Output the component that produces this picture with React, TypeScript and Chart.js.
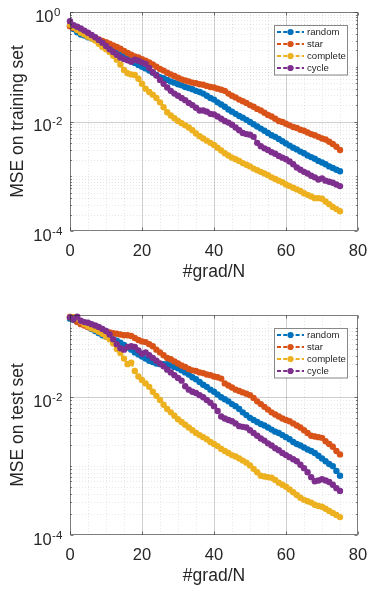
import React, { useEffect, useRef } from "react";
import { Chart, registerables } from "chart.js";

Chart.register(...registerables);

// ---------------- DATA ----------------
const gradSteps = [
  0, 1, 2, 3, 4, 5, 6, 7, 8, 9, 10, 11, 12, 13, 14, 15, 16, 17, 18, 19,
  20, 21, 22, 23, 24, 25, 26, 27, 28, 29, 30, 31, 32, 33, 34, 35, 36, 37, 38, 39,
  40, 41, 42, 43, 44, 45, 46, 47, 48, 49, 50, 51, 52, 53, 54, 55, 56, 57, 58, 59,
  60, 61, 62, 63, 64, 65, 66, 67, 68, 69, 70, 71, 72, 73, 74, 75,
];

const seriesNames = ["random", "star", "complete", "cycle"];
const seriesColors = ["#0072BD", "#D95319", "#EDB120", "#7E2F8E"];

// values given as log10(MSE)
const trainRandomLog10 = [
  -0.25, -0.31, -0.37, -0.41, -0.43, -0.46, -0.48, -0.50, -0.53, -0.55,
  -0.58, -0.61, -0.65, -0.70, -0.74, -0.79, -0.84, -0.89, -0.93, -0.97,
  -1.00, -1.03, -1.07, -1.11, -1.15, -1.19, -1.21, -1.24, -1.27, -1.29,
  -1.32, -1.34, -1.37, -1.39, -1.41, -1.44, -1.46, -1.49, -1.53, -1.57,
  -1.60, -1.65, -1.69, -1.73, -1.78, -1.82, -1.86, -1.90, -1.93, -1.97,
  -2.01, -2.05, -2.09, -2.13, -2.17, -2.21, -2.25, -2.28, -2.32, -2.36,
  -2.40, -2.44, -2.48, -2.51, -2.55, -2.58, -2.62, -2.65, -2.68, -2.72,
  -2.75, -2.78, -2.82, -2.85, -2.88, -2.91,
];
const trainStarLog10 = [
  -0.26, -0.29, -0.32, -0.35, -0.38, -0.41, -0.45, -0.48, -0.50, -0.53,
  -0.55, -0.58, -0.61, -0.64, -0.67, -0.71, -0.75, -0.78, -0.81, -0.83,
  -0.86, -0.89, -0.92, -0.96, -1.00, -1.04, -1.07, -1.11, -1.14, -1.17,
  -1.20, -1.23, -1.25, -1.27, -1.29, -1.30, -1.32, -1.33, -1.35, -1.37,
  -1.38, -1.40, -1.42, -1.44, -1.49, -1.53, -1.56, -1.60, -1.63, -1.66,
  -1.70, -1.73, -1.77, -1.80, -1.84, -1.88, -1.91, -1.95, -1.99, -2.01,
  -2.04, -2.07, -2.10, -2.12, -2.15, -2.17, -2.20, -2.23, -2.25, -2.28,
  -2.31, -2.33, -2.37, -2.41, -2.46, -2.52,
];
const trainCompleteLog10 = [
  -0.23, -0.28, -0.33, -0.38, -0.41, -0.45, -0.48, -0.52, -0.58, -0.64,
  -0.68, -0.73, -0.80, -0.87, -0.96, -1.06, -1.12, -1.14, -1.15, -1.22,
  -1.31, -1.40, -1.46, -1.51, -1.57, -1.65, -1.74, -1.83, -1.89, -1.94,
  -1.99, -2.03, -2.07, -2.11, -2.16, -2.22, -2.27, -2.31, -2.35, -2.39,
  -2.43, -2.48, -2.53, -2.58, -2.62, -2.66, -2.69, -2.72, -2.76, -2.79,
  -2.82, -2.86, -2.89, -2.92, -2.95, -2.98, -3.02, -3.05, -3.08, -3.11,
  -3.15, -3.18, -3.21, -3.24, -3.27, -3.31, -3.34, -3.37, -3.40, -3.40,
  -3.41, -3.46, -3.51, -3.56, -3.60, -3.64,
];
const trainCycleLog10 = [
  -0.17, -0.24, -0.27, -0.30, -0.34, -0.38, -0.42, -0.46, -0.51, -0.56,
  -0.62, -0.68, -0.73, -0.78, -0.83, -0.86, -0.88, -0.91, -0.87, -0.89,
  -0.92, -0.95, -1.02, -1.10, -1.16, -1.24, -1.31, -1.38, -1.44, -1.49,
  -1.53, -1.57, -1.61, -1.66, -1.70, -1.75, -1.80, -1.80, -1.82, -1.86,
  -1.87, -1.91, -1.95, -1.99, -2.02, -2.06, -2.11, -2.16, -2.21, -2.23,
  -2.24, -2.28, -2.39, -2.45, -2.49, -2.52, -2.56, -2.59, -2.63, -2.66,
  -2.69, -2.73, -2.78, -2.84, -2.88, -2.92, -2.95, -2.99, -3.02, -3.06,
  -3.04, -3.08, -3.10, -3.12, -3.15, -3.18,
];

const testRandomLog10 = [
  -0.86, -0.88, -0.90, -0.92, -0.95, -0.98, -1.01, -1.04, -1.07, -1.10,
  -1.12, -1.14, -1.16, -1.18, -1.21, -1.24, -1.28, -1.31, -1.35, -1.38,
  -1.41, -1.44, -1.47, -1.49, -1.51, -1.52, -1.52, -1.52, -1.54, -1.56,
  -1.58, -1.61, -1.64, -1.67, -1.71, -1.74, -1.78, -1.82, -1.85, -1.89,
  -1.92, -1.96, -2.00, -2.03, -2.06, -2.10, -2.13, -2.17, -2.22, -2.26,
  -2.30, -2.33, -2.36, -2.39, -2.41, -2.44, -2.47, -2.50, -2.52, -2.55,
  -2.58, -2.61, -2.65, -2.68, -2.70, -2.73, -2.76, -2.78, -2.81, -2.85,
  -2.89, -2.93, -2.97, -3.00, -3.07, -3.14,
];
const testStarLog10 = [
  -0.84, -0.87, -0.91, -0.94, -0.96, -0.98, -1.00, -1.01, -1.03, -1.04,
  -1.05, -1.06, -1.07, -1.08, -1.09, -1.10, -1.10, -1.11, -1.14, -1.17,
  -1.19, -1.20, -1.23, -1.26, -1.31, -1.35, -1.39, -1.43, -1.45, -1.48,
  -1.51, -1.54, -1.56, -1.59, -1.61, -1.62, -1.64, -1.65, -1.67, -1.68,
  -1.70, -1.71, -1.73, -1.80, -1.83, -1.86, -1.89, -1.91, -1.93, -1.95,
  -1.97, -2.01, -2.06, -2.10, -2.14, -2.18, -2.22, -2.25, -2.28, -2.31,
  -2.33, -2.35, -2.38, -2.41, -2.44, -2.48, -2.52, -2.56, -2.57, -2.58,
  -2.59, -2.64, -2.68, -2.72, -2.78, -2.83,
];
const testCompleteLog10 = [
  -0.83, -0.84, -0.86, -0.90, -0.94, -0.97, -1.00, -1.02, -1.05, -1.08,
  -1.12, -1.16, -1.22, -1.30, -1.36, -1.44, -1.52, -1.50, -1.62, -1.70,
  -1.75, -1.80, -1.85, -1.92, -1.98, -2.04, -2.11, -2.17, -2.22, -2.27,
  -2.32, -2.36, -2.40, -2.44, -2.48, -2.52, -2.55, -2.58, -2.61, -2.65,
  -2.68, -2.71, -2.75, -2.78, -2.81, -2.84, -2.86, -2.89, -2.92, -2.95,
  -2.99, -3.04, -3.09, -3.14, -3.15, -3.16, -3.17, -3.20, -3.24, -3.27,
  -3.30, -3.34, -3.38, -3.42, -3.46, -3.49, -3.51, -3.53, -3.56, -3.58,
  -3.59, -3.62, -3.65, -3.68, -3.71, -3.74,
];
const testCycleLog10 = [
  -0.84, -0.87, -0.83, -0.89, -0.91, -0.92, -0.94, -0.96, -0.98, -1.01,
  -1.04, -1.09, -1.16, -1.23, -1.29, -1.31, -1.27, -1.26, -1.27, -1.32,
  -1.37, -1.35, -1.39, -1.43, -1.47, -1.51, -1.55, -1.60, -1.64, -1.68,
  -1.72, -1.76, -1.84, -1.89, -1.92, -1.94, -1.97, -2.00, -2.04, -2.08,
  -2.13, -2.20, -2.28, -2.31, -2.33, -2.35, -2.38, -2.42, -2.43, -2.44,
  -2.48, -2.52, -2.56, -2.60, -2.63, -2.67, -2.70, -2.74, -2.77, -2.81,
  -2.84, -2.87, -2.90, -2.93, -2.98, -3.03, -3.09, -3.16, -3.22, -3.21,
  -3.19, -3.21, -3.23, -3.27, -3.32, -3.36,
];

const xTickValues = [0, 20, 40, 60, 80];
const xMinorGridValues = [5, 10, 15, 25, 30, 35, 45, 50, 55, 65, 70, 75];
const yTickValues = [1e-4, 1e-2, 1];
const yTickExponents = ["-4", "-2", "0"];

const xAxisTitle = "#grad/N";
const trainYTitle = "MSE on training set";
const testYTitle = "MSE on test set";

// ---------------- STYLE ----------------
const FONT = '"Liberation Sans", Arial, Helvetica, sans-serif';
const TEXT = "#262626";

function yMinorGridFor(min: number, max: number) {
  const out: number[] = [];
  for (let k = -5; k <= 1; k++) {
    for (let n = 1; n <= 9; n++) {
      const v = n * Math.pow(10, k);
      if (v > min * 1.0001 && v < max * 0.9999 && !yTickValues.some((t) => Math.abs(t - v) / t < 1e-6)) out.push(v);
    }
  }
  return out;
}

function makeAxesPlugin(yTitle: string) {
  return {
    id: "matlabAxes",
    beforeDatasetsDraw(chart: any) {
      const { ctx, chartArea: a, scales } = chart;
      const x = scales.x;
      const y = scales.y;
      ctx.save();
      ctx.fillStyle = "#ffffff";
      ctx.fillRect(a.left, a.top, a.right - a.left, a.bottom - a.top);
      // minor grid
      ctx.lineWidth = 1;
      ctx.strokeStyle = "rgba(38,38,38,0.11)";
      ctx.setLineDash([1, 2]);
      for (const v of xMinorGridValues) {
        const px = Math.round(x.getPixelForValue(v)) + 0.5;
        ctx.beginPath();
        ctx.moveTo(px, a.top);
        ctx.lineTo(px, a.bottom);
        ctx.stroke();
      }
      for (const v of yMinorGridFor(y.min, y.max)) {
        const py = Math.round(y.getPixelForValue(v)) + 0.5;
        ctx.beginPath();
        ctx.moveTo(a.left, py);
        ctx.lineTo(a.right, py);
        ctx.stroke();
      }
      // major grid
      ctx.setLineDash([]);
      ctx.strokeStyle = "rgba(38,38,38,0.22)";
      for (const v of xTickValues) {
        if (v <= x.min || v >= x.max) continue;
        const px = Math.round(x.getPixelForValue(v)) + 0.5;
        ctx.beginPath();
        ctx.moveTo(px, a.top);
        ctx.lineTo(px, a.bottom);
        ctx.stroke();
      }
      for (const v of yTickValues) {
        if (v <= y.min * 1.0001 || v >= y.max * 0.9999) continue;
        const py = Math.round(y.getPixelForValue(v)) + 0.5;
        ctx.beginPath();
        ctx.moveTo(a.left, py);
        ctx.lineTo(a.right, py);
        ctx.stroke();
      }
      ctx.restore();
    },
    afterDatasetsDraw(chart: any) {
      const { ctx, chartArea: a, scales } = chart;
      const x = scales.x;
      const y = scales.y;
      const L = Math.round(a.left) + 0.5;
      const R = Math.round(a.right) - 0.5;
      const T = Math.round(a.top) + 0.5;
      const B = Math.round(a.bottom) - 0.5;
      ctx.save();
      ctx.strokeStyle = "rgba(38,38,38,0.6)";
      ctx.lineWidth = 1;
      ctx.setLineDash([]);
      ctx.strokeRect(L, T, R - L, B - T);
      // ticks
      ctx.beginPath();
      for (const v of xTickValues) {
        const px = Math.round(x.getPixelForValue(v)) + 0.5;
        ctx.moveTo(px, B);
        ctx.lineTo(px, B - 3);
        ctx.moveTo(px, T);
        ctx.lineTo(px, T + 3);
      }
      for (const v of yTickValues) {
        if (v < y.min * 0.9999 || v > y.max * 1.0001) continue;
        const py = Math.round(y.getPixelForValue(v)) + 0.5;
        ctx.moveTo(L, py);
        ctx.lineTo(L + 3, py);
        ctx.moveTo(R, py);
        ctx.lineTo(R - 3, py);
      }
      for (const v of yMinorGridFor(y.min, y.max)) {
        const py = Math.round(y.getPixelForValue(v)) + 0.5;
        ctx.moveTo(L, py);
        ctx.lineTo(L + 1.5, py);
        ctx.moveTo(R, py);
        ctx.lineTo(R - 1.5, py);
      }
      ctx.stroke();

      // tick labels
      ctx.fillStyle = TEXT;
      ctx.textAlign = "center";
      ctx.textBaseline = "alphabetic";
      ctx.font = `16.5px ${FONT}`;
      for (const v of xTickValues) {
        const px = x.getPixelForValue(v);
        ctx.fillText(String(v), px, a.bottom + 25);
      }
      yTickValues.forEach((v, i) => {
        if (v < y.min * 0.9999 || v > y.max * 1.0001) return;
        const py = y.getPixelForValue(v);
        ctx.font = `16.5px ${FONT}`;
        const w1 = ctx.measureText("10").width;
        ctx.font = `11.5px ${FONT}`;
        const w2 = ctx.measureText(yTickExponents[i]).width;
        const left = a.left - 22.5 - (w1 + w2) / 2;
        ctx.textAlign = "left";
        ctx.font = `16.5px ${FONT}`;
        ctx.fillText("10", left, py + 9.5);
        ctx.font = `11.5px ${FONT}`;
        ctx.fillText(yTickExponents[i], left + w1 + 0.5, py + 3.5);
      });

      // axis titles
      ctx.textAlign = "center";
      ctx.font = `17.5px ${FONT}`;
      ctx.fillText(xAxisTitle, (a.left + a.right) / 2, a.bottom + 45.5);
      ctx.save();
      ctx.translate(18.5, (a.top + a.bottom) / 2);
      ctx.rotate(-Math.PI / 2);
      ctx.textBaseline = "middle";
      ctx.fillText(yTitle, 0, 0);
      ctx.restore();

      // legend
      const lx = a.right - 84;
      const ly = a.top + 13;
      const lw = 73;
      const lh = 49.5;
      ctx.fillStyle = "#ffffff";
      ctx.fillRect(lx, ly, lw, lh);
      ctx.strokeStyle = "rgba(38,38,38,0.55)";
      ctx.lineWidth = 1;
      ctx.strokeRect(Math.round(lx) + 0.5, Math.round(ly) + 0.5, lw, lh);
      ctx.font = `9.6px ${FONT}`;
      ctx.textAlign = "left";
      ctx.textBaseline = "middle";
      seriesNames.forEach((name, i) => {
        const ry = a.top + 20 + i * 12;
        const c = seriesColors[i];
        ctx.strokeStyle = c;
        ctx.lineWidth = 2.2;
        ctx.setLineDash([4, 2.2]);
        ctx.beginPath();
        ctx.moveTo(lx + 3, ry);
        ctx.lineTo(lx + 30, ry);
        ctx.stroke();
        ctx.setLineDash([]);
        ctx.fillStyle = c;
        ctx.beginPath();
        ctx.arc(lx + 16.5, ry, 3.1, 0, Math.PI * 2);
        ctx.fill();
        ctx.fillStyle = TEXT;
        ctx.fillText(name, lx + 33, ry + 0.5);
      });
      ctx.restore();
    },
  };
}

function buildDatasets(logs: number[][]) {
  return logs.map((arr, i) => ({
    label: seriesNames[i],
    data: gradSteps.map((s, j) => ({ x: s, y: Math.pow(10, arr[j]) })),
    borderColor: seriesColors[i],
    backgroundColor: seriesColors[i],
    pointBackgroundColor: seriesColors[i],
    pointBorderWidth: 0,
    pointRadius: 3.2,
    borderWidth: 2,
    borderDash: [5, 3],
    order: 3 - i,
    clip: 8,
    tension: 0,
  }));
}

function Panel(props: {
  top: number;
  height: number;
  logs: number[][];
  yMax: number;
  yTitle: string;
  padTop: number;
  padBottom: number;
}) {
  const ref = useRef<HTMLCanvasElement | null>(null);
  useEffect(() => {
    if (!ref.current) return;
    const chart = new Chart(ref.current, {
      type: "line",
      data: { datasets: buildDatasets(props.logs) as any },
      options: {
        animation: false,
        responsive: false,
        devicePixelRatio: 1,
        layout: { padding: { left: 70, right: 11, top: props.padTop, bottom: props.padBottom } },
        plugins: { legend: { display: false }, tooltip: { enabled: false } },
        events: [],
        scales: {
          x: { type: "linear", min: 0, max: 80, display: false },
          y: { type: "logarithmic", min: 1e-4, max: props.yMax, display: false },
        },
      },
      plugins: [makeAxesPlugin(props.yTitle)],
    });
    return () => chart.destroy();
  }, []);
  return (
    <canvas
      ref={ref}
      width={369}
      height={props.height}
      style={{ position: "absolute", left: 0, top: props.top, width: 369, height: props.height }}
    />
  );
}

export default function App() {
  return (
    <div style={{ position: "absolute", left: 0, top: 0, width: 369, height: 591, background: "#ffffff" }}>
      <Panel
        top={0}
        height={295}
        logs={[trainRandomLog10, trainStarLog10, trainCompleteLog10, trainCycleLog10]}
        yMax={1}
        yTitle={trainYTitle}
        padTop={12}
        padBottom={64}
      />
      <Panel
        top={295}
        height={296}
        logs={[testRandomLog10, testStarLog10, testCompleteLog10, testCycleLog10]}
        yMax={0.156}
        yTitle={testYTitle}
        padTop={20}
        padBottom={56}
      />
    </div>
  );
}
